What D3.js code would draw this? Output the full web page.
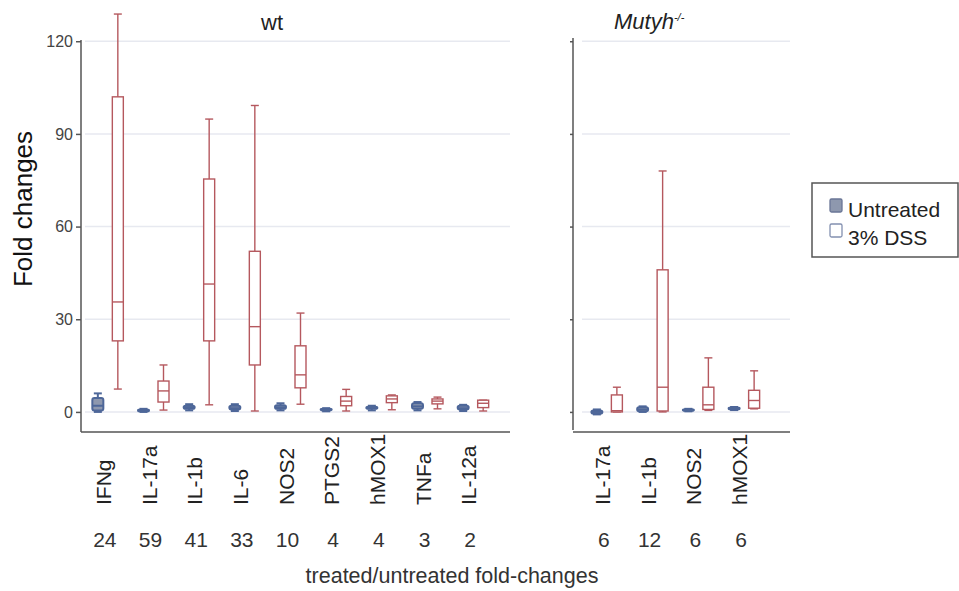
<!DOCTYPE html>
<html><head><meta charset="utf-8">
<script src="https://cdn.jsdelivr.net/npm/d3@7"></script>
<style>body{margin:0;background:#fff}svg{display:block}text{font-family:"Liberation Sans",Arial,sans-serif}</style>
</head><body><svg id="c" width="959" height="591"></svg>
<script>
// ---------- data ----------
const genesWT = ["IFNg","IL-17a","IL-1b","IL-6","NOS2","PTGS2","hMOX1","TNFa","IL-12a"];
const ratioWT = ["24","59","41","33","10","4","4","3","2"];
// [low, q1, median, q3, high]
const untreatedWT = [[0,0.5,2,4.5,6],[0,0.2,0.5,0.8,1],[0.5,1,1.5,2,2.5],[0.3,0.8,1.2,2,2.5],[0.5,1,1.5,2.2,2.8],[0.2,0.5,0.8,1,1.2],[0.5,1,1.3,1.7,2],[0.5,1,1.8,2.8,3.2],[0.3,0.8,1.2,2,2.3]];
const dssWT = [[7.4,23,35.6,102,128.8],[0.6,3.2,6.8,10,15.2],[2.3,23,41.4,75.4,94.8],[0.3,15.2,27.6,52,99.2],[2.5,7.8,12,21.4,32],[0.3,2,3.5,5,7.3],[0.7,3,4.2,5.2,5.5],[1,2.6,3.5,4.2,4.8],[0.3,1.4,2.8,3.8,3.8]];
const genesMut = ["IL-17a","IL-1b","NOS2","hMOX1"];
const ratioMut = ["6","12","6","6"];
const untreatedMut = [[-0.8,-0.5,0,0.5,0.8],[0,0.2,0.8,1.5,1.8],[0.2,0.4,0.6,0.9,1],[0.6,0.8,1,1.4,1.6]];
const dssMut = [[0,0,0.4,5.5,8],[0,0.3,8,46,78],[0.5,0.8,2.3,8,17.5],[1,1.2,3.7,7,13.3]];
const yTicks = [0,30,60,90,120];
const legendLabels = ["Untreated","3% DSS"];

// ---------- styles ----------
const dssColor = "#b5585e", untFill = "#8e98ae", untStroke = "#4e6799";
const axisColor = "#555", gridColor = "#e7e9f0";

const svg = d3.select("#c");
const y = d3.scaleLinear().domain([-6.5, 120.4]).range([432, 40]);
const xL = d3.scaleBand().domain(genesWT).range([85, 496]);
const xR = d3.scaleBand().domain(genesMut).range([584, 767]);

function panel(x, genes, unt, dss, ratios, gx0, gx1) {
  svg.append("g").selectAll("line").data(yTicks).join("line")
    .attr("x1", gx0).attr("x2", gx1).attr("y1", d => y(d)).attr("y2", d => y(d))
    .attr("stroke", gridColor).attr("stroke-width", 1.5);
  const boxW = 11, capW = 8, off = 10;
  function drawBox(vals, cx, isDss) {
    const g = svg.append("g");
    const col = isDss ? dssColor : untStroke;
    const sw = isDss ? 1.4 : 2;
    g.append("line").attr("x1", cx).attr("x2", cx).attr("y1", y(vals[0])).attr("y2", y(vals[4])).attr("stroke", col).attr("stroke-width", sw);
    [vals[0], vals[4]].forEach(v => g.append("line").attr("x1", cx - capW/2).attr("x2", cx + capW/2).attr("y1", y(v)).attr("y2", y(v)).attr("stroke", col).attr("stroke-width", sw));
    g.append("rect").attr("x", cx - boxW/2).attr("width", boxW)
      .attr("y", y(vals[3])).attr("height", Math.max(1, y(vals[1]) - y(vals[3])))
      .attr("rx", isDss ? 0 : 2)
      .attr("fill", isDss ? "#fff" : untFill).attr("stroke", col).attr("stroke-width", sw);
    g.append("line").attr("x1", cx - boxW/2).attr("x2", cx + boxW/2).attr("y1", y(vals[2])).attr("y2", y(vals[2])).attr("stroke", col).attr("stroke-width", sw);
  }
  genes.forEach((gname, i) => {
    const c = x(gname) + x.bandwidth()/2;
    drawBox(unt[i], c - off, false);
    drawBox(dss[i], c + off, true);
    svg.append("text").attr("transform", `translate(${c + 3},505) rotate(-90)`)
      .attr("text-anchor", "start").attr("font-size", 21).attr("fill", "#222").text(gname);
    svg.append("text").attr("x", c - 3).attr("y", 547).attr("text-anchor", "middle")
      .attr("font-size", 21).attr("fill", "#333").text(ratios[i]);
  });
}
panel(xL, genesWT, untreatedWT, dssWT, ratioWT, 85, 510);
panel(xR, genesMut, untreatedMut, dssMut, ratioMut, 582, 790);

// left axis
const axL = svg.append("g").attr("transform", "translate(81,0)")
  .call(d3.axisLeft(y).tickValues(yTicks).tickSize(5).tickPadding(3));
axL.select(".domain").remove();
axL.selectAll("line").attr("stroke", axisColor).attr("stroke-width", 1.5);
axL.selectAll("text").attr("font-size", 16).attr("fill", "#444").attr("font-family", "Liberation Sans, Arial, sans-serif");
svg.append("line").attr("x1", 81).attr("x2", 81).attr("y1", 40).attr("y2", 432).attr("stroke", axisColor).attr("stroke-width", 1.5);
svg.append("line").attr("x1", 81).attr("x2", 510).attr("y1", 432).attr("y2", 432).attr("stroke", axisColor).attr("stroke-width", 1.5);

// right axis
const axR = svg.append("g").attr("transform", "translate(573,0)")
  .call(d3.axisLeft(y).tickValues(yTicks).tickSize(3).tickFormat(""));
axR.select(".domain").remove();
axR.selectAll("line").attr("stroke", axisColor).attr("stroke-width", 1.5);
svg.append("line").attr("x1", 573).attr("x2", 573).attr("y1", 38).attr("y2", 430).attr("stroke", axisColor).attr("stroke-width", 1.5);
svg.append("line").attr("x1", 573).attr("x2", 790).attr("y1", 432).attr("y2", 432).attr("stroke", axisColor).attr("stroke-width", 1.5);

// titles
svg.append("text").attr("x", 272).attr("y", 30).attr("text-anchor", "middle").attr("font-size", 22).attr("fill", "#222").text("wt");
const mt = svg.append("text").attr("x", 614).attr("y", 29).attr("font-size", 22).attr("fill", "#222").attr("font-style", "italic");
mt.append("tspan").text("Mutyh");
mt.append("tspan").attr("dy", -8).attr("font-size", 11).text("-/-");

svg.append("text").attr("transform", "translate(32,209) rotate(-90)").attr("text-anchor", "middle")
  .attr("font-size", 26).attr("fill", "#111").text("Fold changes");
svg.append("text").attr("x", 452).attr("y", 583).attr("text-anchor", "middle")
  .attr("font-size", 21.5).attr("fill", "#333").text("treated/untreated fold-changes");

// legend
const lg = svg.append("g");
lg.append("rect").attr("x", 812).attr("y", 183).attr("width", 146).attr("height", 74)
  .attr("fill", "#fff").attr("stroke", axisColor).attr("stroke-width", 1.5);
legendLabels.forEach((l, i) => {
  lg.append("rect").attr("x", 830).attr("y", 199 + i*25).attr("width", 12).attr("height", 13).attr("rx", 1.5)
    .attr("fill", i === 0 ? untFill : "#fff").attr("stroke", i === 0 ? "#6a7696" : "#8390b0").attr("stroke-width", 1.3);
  lg.append("text").attr("x", 848).attr("y", 217 + i*28).attr("font-size", 21).attr("fill", "#222").text(l);
});
</script></body></html>
